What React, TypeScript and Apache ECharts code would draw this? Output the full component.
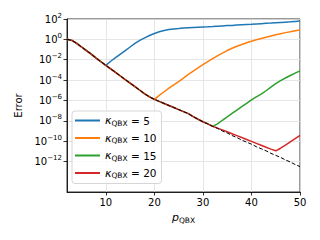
import React, { useEffect, useRef } from "react";
import * as echarts from "echarts";

// p_QBX values
const pValues = [
  2, 3, 4, 5, 6, 7, 8, 9, 10, 11, 12, 13, 14, 15, 16, 17, 18, 19, 20, 21, 22, 23, 24, 25, 26,
  27, 28, 29, 30, 31, 32, 33, 34, 35, 36, 37, 38, 39, 40, 41, 42, 43, 44, 45, 46, 47, 48, 49, 50,
];
// reference (dashed) error, p = 2..50
const refError = [
  1.0, 7.94e-1, 3.98e-1, 1.78e-1, 7.94e-2, 3.55e-2, 1.41e-2, 6.31e-3, 2.82e-3, 1.26e-3, 5.62e-4,
  2.51e-4, 1.12e-4, 5.01e-5, 2.24e-5, 1.0e-5, 4.47e-6, 2.24e-6, 1.26e-6, 7.94e-7, 5.01e-7, 3.16e-7,
  2.0e-7, 1.26e-7, 7.94e-8, 5.01e-8, 2.51e-8, 1.41e-8, 7.94e-9, 5.01e-9, 2.82e-9, 1.78e-9, 1.0e-9,
  6.31e-10, 3.55e-10, 2.24e-10, 1.26e-10, 7.94e-11, 5.01e-11, 2.82e-11, 1.78e-11, 1.12e-11,
  6.31e-12, 3.98e-12, 2.51e-12, 1.41e-12, 8.91e-13, 5.01e-13, 3.16e-13,
];
const kappaValues = [5, 10, 15, 20];
// p where each kappa curve leaves the reference curve
const departP = [10, 20, 32, 33];
// kappa = 5, p = 10..50
const errK5 = [
  2.82e-3, 7.08e-3, 1.58e-2, 3.55e-2, 7.94e-2, 1.78e-1, 3.98e-1, 7.94e-1, 1.41, 2.4, 3.8, 5.62, 7.4,
  9.1, 10.5, 11.7, 13.2, 14.1, 14.8, 15.5, 16.2, 17.0, 18.2, 19.5, 20.9, 22.4, 23.4, 25.1, 26.9,
  28.8, 30.2, 32.4, 34.7, 37.2, 39.8, 42.7, 45.7, 49.0, 52.5, 57.5, 63.1,
];
// kappa = 10, p = 20..50
const errK10 = [
  1.26e-6, 3.16e-6, 7.08e-6, 1.58e-5, 3.39e-5, 7.08e-5, 1.58e-4, 3.55e-4, 7.59e-4, 1.58e-3,
  3.31e-3, 6.61e-3, 1.26e-2, 2.4e-2, 4.47e-2, 7.94e-2, 1.32e-1, 2.09e-1, 3.16e-1, 4.68e-1,
  6.61e-1, 9.12e-1, 1.23, 1.62, 2.14, 2.82, 3.63, 4.57, 5.62, 6.92, 8.32,
];
// kappa = 15, p = 32..50
const errK15 = [
  2.82e-9, 5.01e-9, 1.12e-8, 2.4e-8, 5.25e-8, 1.12e-7, 2.4e-7, 5.13e-7, 1.1e-6, 2.24e-6, 4.17e-6,
  8.91e-6, 2.0e-5, 4.47e-5, 8.91e-5, 1.58e-4, 2.82e-4, 4.79e-4, 7.94e-4,
];
// kappa = 20, p = 33..50
const errK20 = [
  1.91e-9, 1.26e-9, 8.32e-10, 5.37e-10, 3.47e-10, 2.24e-10, 1.45e-10, 9.33e-11, 6.03e-11,
  3.89e-11, 2.51e-11, 1.62e-11, 1.12e-11, 2.0e-11, 3.98e-11, 8.32e-11, 1.74e-10, 3.63e-10,
];
const kappaErrors = [errK5, errK10, errK15, errK20];
const colors = ["#1f77b4", "#ff7f0e", "#2ca02c", "#d62728"];
const xTicks = [10, 20, 30, 40, 50];
const yTicks = [1e-12, 1e-10, 1e-8, 1e-6, 1e-4, 1e-2, 1e0, 1e2];

const FONT = "DejaVu Sans";

function seriesData(k: number) {
  const start = departP[k];
  const rise = kappaErrors[k];
  return pValues.map((p, i) => [p, p < start ? refError[i] : rise[p - start]]);
}

export default function App() {
  const ref = useRef<HTMLDivElement>(null);
  useEffect(() => {
    if (!ref.current) return;
    const chart = echarts.init(ref.current, null, { renderer: "svg" });
    const names = kappaValues.map((k) => `κQBX = ${k}`);
    const series: any[] = kappaValues.map((k, i) => ({
      name: names[i],
      type: "line",
      data: seriesData(i),
      showSymbol: false,
      symbol: "none",
      lineStyle: { color: colors[i], width: 1.5 },
      itemStyle: { color: colors[i] },
    }));
    series.push({
      name: "reference",
      type: "line",
      data: pValues.map((p, i) => [p, refError[i]]),
      symbol: "none",
      lineStyle: { color: "#000", width: 1, type: [4, 2] },
      itemStyle: { color: "#000" },
    });
    chart.setOption({
      animation: false,
      grid: {
        left: 67,
        right: 20,
        top: 19,
        bottom: 48,
        show: true,
        borderColor: "#000",
        borderWidth: 0.8,
      },
      xAxis: {
        type: "value",
        min: 2,
        max: 50,
        axisLine: { show: true, lineStyle: { color: "#000", width: 0.8 } },
        axisTick: { show: true, length: 3.5, customValues: xTicks, lineStyle: { color: "#000", width: 0.8 } },
        axisLabel: { customValues: xTicks, color: "#000", fontSize: 10, fontFamily: FONT, margin: 5 },
        splitLine: { show: true, lineStyle: { color: "#e0e0e0", width: 0.8 } },
        name: "{p|p}{s|QBX}",
        nameLocation: "middle",
        nameGap: 19,
        nameTextStyle: {
          rich: {
            p: { fontSize: 11, fontStyle: "italic", fontFamily: FONT, color: "#000" },
            s: { fontSize: 7.5, fontFamily: FONT, color: "#000", padding: [5, 0, 0, 0] },
          },
        },
      },
      yAxis: {
        type: "log",
        logBase: 10,
        min: 1e-15,
        max: 1e2,
        axisLine: { show: true, lineStyle: { color: "#000", width: 0.8 } },
        axisTick: { show: true, length: 3.5, customValues: yTicks, lineStyle: { color: "#000", width: 0.8 } },
        axisLabel: {
          customValues: yTicks,
          margin: 5,
          formatter: (v: number) => {
            const e = Math.round(Math.log10(v));
            return `{b|10}{e|${e < 0 ? "−" + -e : e}}`;
          },
          rich: {
            b: { fontSize: 10, fontFamily: FONT, color: "#000" },
            e: { fontSize: 7, fontFamily: FONT, color: "#000", padding: [0, 0, 7, 0] },
          },
        },
        splitLine: { show: true, lineStyle: { color: "#e0e0e0", width: 0.8 } },
        minorTick: { show: false },
        name: "Error",
        nameLocation: "middle",
        nameGap: 43,
        nameTextStyle: { fontSize: 10, fontFamily: FONT, color: "#000" },
      },
      legend: {
        data: names.map((n) => ({ name: n, icon: "rect" })),
        orient: "vertical",
        left: 72,
        top: 111,
        itemWidth: 25,
        itemHeight: 2,
        itemGap: 5.5,
        padding: [4, 5, 4, 3],
        backgroundColor: "rgba(255,255,255,0.8)",
        borderColor: "#cccccc",
        borderWidth: 0.8,
        borderRadius: 3,
        formatter: (name: string) => {
          const k = name.split("= ")[1];
          return `{k|κ}{s|QBX}{t| = ${k}}`;
        },
        textStyle: {
          rich: {
            k: { fontSize: 11, fontStyle: "italic", fontFamily: FONT, color: "#000", lineHeight: 12 },
            s: { fontSize: 7.5, fontFamily: FONT, color: "#000", padding: [5, 0, 0, 0] },
            t: { fontSize: 10.5, fontFamily: FONT, color: "#000", lineHeight: 12 },
          },
        },
      },
      series,
    });
    return () => chart.dispose();
  }, []);
  return <div ref={ref} style={{ width: 320, height: 240, position: "absolute", left: 0, top: 0 }} />;
}
